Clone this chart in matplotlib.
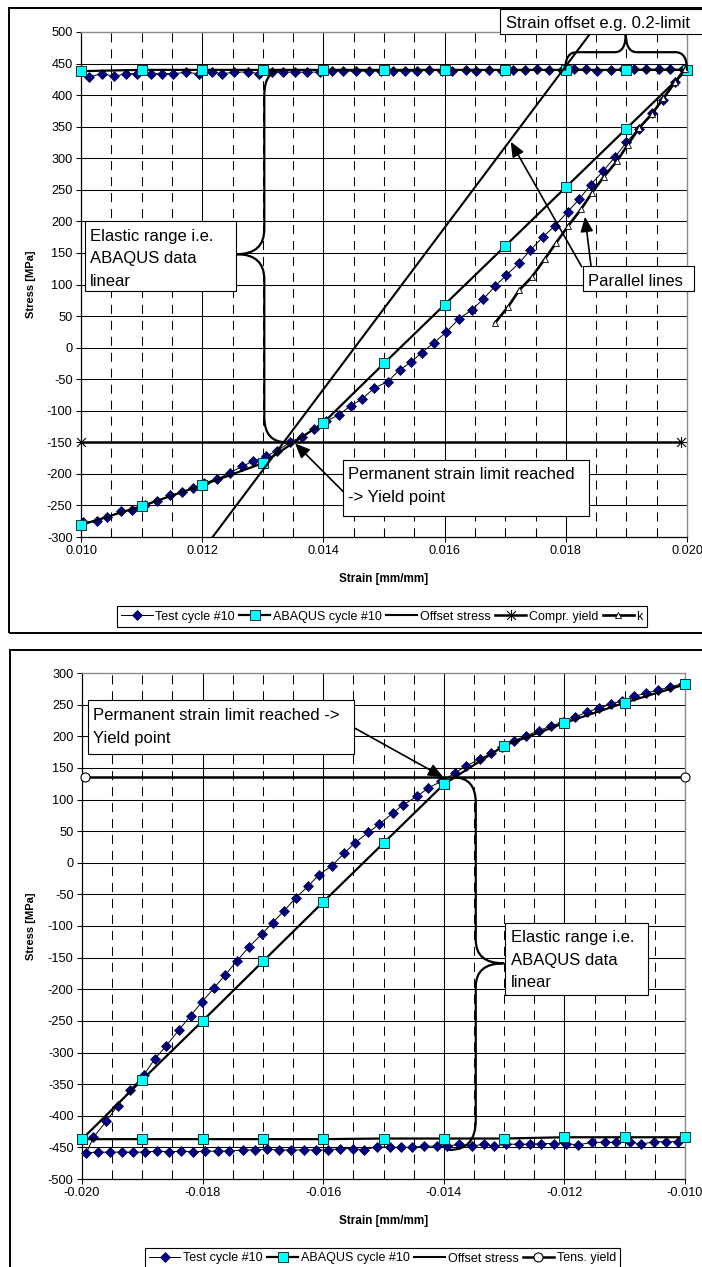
import numpy as np
import matplotlib
matplotlib.use("Agg")
import matplotlib.pyplot as plt
from matplotlib.path import Path
from matplotlib.patches import PathPatch, Rectangle, FancyArrowPatch
from matplotlib.lines import Line2D
from matplotlib.ticker import FormatStrFormatter

plt.rcParams['font.family'] = ['Liberation Sans', 'DejaVu Sans']
plt.rcParams['axes.unicode_minus'] = False
plt.rcParams['lines.scale_dashes'] = False

# ---------------------------------------------------------------- data
# Tension side (strain 0.010 .. 0.020)
t_test_up_strain = [0.01004, 0.01026, 0.01043, 0.01066, 0.01084, 0.01105, 0.01126, 0.01147,
                    0.01166, 0.01185, 0.01203, 0.01225, 0.01246, 0.01266, 0.01284, 0.01306,
                    0.01324, 0.01345, 0.01364, 0.01384, 0.01405, 0.01425, 0.01445, 0.01463,
                    0.01484, 0.01506, 0.01526, 0.01545, 0.01562, 0.01583, 0.01602, 0.01623,
                    0.01645, 0.01664, 0.01683, 0.01702, 0.01723, 0.01741, 0.01762, 0.01782,
                    0.01803, 0.01822, 0.01841, 0.01862, 0.01881, 0.01900, 0.01920, 0.01942,
                    0.01961, 0.01980, 0.01997]
t_test_up_stress = [-277, -274, -269, -259, -257, -250, -243, -234, -229, -222, -214, -208,
                    -198, -188, -180, -172, -163, -150, -141, -129, -116, -107, -92, -82,
                    -64, -54, -35, -23, -8, 8, 24, 45, 60, 77, 97, 115, 134, 154, 175, 193,
                    215, 235, 258, 280, 302, 325, 347, 371, 393, 420, 440]
t_test_top_strain = [0.01993, 0.01972, 0.01953, 0.01932, 0.01913, 0.01894, 0.01874, 0.01851,
                     0.01833, 0.01814, 0.01794, 0.01773, 0.01753, 0.01733, 0.01713, 0.01694,
                     0.01674, 0.01652, 0.01635, 0.01613, 0.01595, 0.01575, 0.01555, 0.01535,
                     0.01515, 0.01495, 0.01476, 0.01454, 0.01433, 0.01415, 0.01394, 0.01373,
                     0.01353, 0.01333, 0.01315, 0.01294, 0.01276, 0.01253, 0.01232, 0.01216,
                     0.01194, 0.01174, 0.01152, 0.01134, 0.01115, 0.01093, 0.01074, 0.01055,
                     0.01034, 0.01014]
t_test_top_stress = [441, 441, 441, 441, 441, 441, 440, 438, 441, 441, 440, 440, 441, 440,
                     440, 439, 440, 438, 440, 438, 438, 440, 438, 438, 438, 438, 438, 438,
                     438, 439, 437, 436, 437, 436, 437, 434, 437, 436, 434, 437, 434, 436,
                     434, 434, 434, 434, 434, 430, 434, 429]

t_abq_strain = [0.010, 0.011, 0.012, 0.013, 0.014, 0.015, 0.016, 0.017, 0.018, 0.019, 0.020,
                0.020, 0.019, 0.018, 0.017, 0.016, 0.015, 0.014, 0.013, 0.012, 0.011, 0.010]
t_abq_stress = [-281, -251, -218, -183, -119, -25, 68, 161, 254, 347, 440,
                440, 440, 440, 440, 440, 440, 440, 440, 440, 440, 438]

t_offset_strain = [0.0110, 0.0190]
t_offset_stress = [-450, 574]

t_yield_strain = [0.0100, 0.0199]
t_yield_stress = [-150, -150]

t_k_strain = [0.01683, 0.01705, 0.01723, 0.01744, 0.01765, 0.01784, 0.01804, 0.01825,
              0.01843, 0.01863, 0.01884, 0.01902, 0.01921, 0.01942, 0.01961, 0.01980, 0.01997]
t_k_stress = [39, 65, 91, 112, 140, 166, 193, 219, 245, 271, 295, 321, 348, 370, 395, 420, 442]

# Compression side (strain -0.020 .. -0.010)
c_test_low_strain = [-0.01993, -0.01973, -0.01954, -0.01934, -0.01915, -0.01896, -0.01875,
                     -0.01856, -0.01835, -0.01816, -0.01796, -0.01774, -0.01756, -0.01733,
                     -0.01713, -0.01694, -0.01673, -0.01653, -0.01632, -0.01612, -0.01592,
                     -0.01572, -0.01551, -0.01532, -0.01511, -0.01490, -0.01471, -0.01452,
                     -0.01433, -0.01412, -0.01394, -0.01374, -0.01354, -0.01333, -0.01317,
                     -0.01297, -0.01276, -0.01257, -0.01238, -0.01218, -0.01197, -0.01177,
                     -0.01154, -0.01133, -0.01114, -0.01092, -0.01073, -0.01051, -0.01031,
                     -0.01011]
c_test_low_stress = [-459, -457, -458, -457, -458, -457, -456, -457, -456, -457, -456, -456,
                     -456, -454, -454, -453, -454, -454, -454, -454, -454, -452, -452, -454,
                     -449, -450, -450, -450, -448, -448, -448, -445, -448, -445, -448, -445,
                     -445, -445, -444, -444, -444, -446, -442, -442, -442, -441, -445, -441,
                     -441, -441]
c_test_up_strain = [-0.01981, -0.01960, -0.01941, -0.01920, -0.01898, -0.01879, -0.01860,
                    -0.01839, -0.01820, -0.01801, -0.01781, -0.01763, -0.01743, -0.01723,
                    -0.01702, -0.01684, -0.01665, -0.01645, -0.01625, -0.01607, -0.01586,
                    -0.01565, -0.01547, -0.01525, -0.01507, -0.01485, -0.01467, -0.01444,
                    -0.01426, -0.01404, -0.01381, -0.01363, -0.01340, -0.01322, -0.01303,
                    -0.01284, -0.01263, -0.01242, -0.01223, -0.01203, -0.01182, -0.01162,
                    -0.01143, -0.01123, -0.01104, -0.01085, -0.01065, -0.01044, -0.01025,
                    -0.01004]
c_test_up_stress = [-434, -409, -384, -359, -336, -310, -289, -264, -242, -220, -198, -178,
                    -155, -133, -113, -95, -76, -55, -37, -19, -5, 15, 32, 48, 61, 78, 92,
                    105, 118, 129, 142, 153, 164, 173, 183, 193, 201, 209, 216, 222, 230,
                    239, 244, 251, 256, 263, 268, 273, 278, 283]

c_abq_strain = [-0.010, -0.011, -0.012, -0.013, -0.014, -0.015, -0.016, -0.017, -0.018, -0.019,
                -0.020, -0.020, -0.019, -0.018, -0.017, -0.016, -0.015, -0.014, -0.013, -0.012,
                -0.011, -0.010]
c_abq_stress = [-434, -434, -434, -436, -436, -436, -437, -437, -437, -437,
                -437, -437, -343, -250, -156, -62, 31, 124, 185, 221, 253, 282]

c_yield_strain = [-0.01995, -0.0100]
c_yield_stress = [135, 135]

t_yticks = list(range(-300, 501, 50))
c_yticks = list(range(-500, 301, 50))
t_xticks = [0.010, 0.012, 0.014, 0.016, 0.018, 0.020]
c_xticks = [-0.020, -0.018, -0.016, -0.014, -0.012, -0.010]

# ---------------------------------------------------------------- styles
NAVY = '#000080'
CYAN = '#00FFFF'
star_marker = Path([(-1, -1), (1, 1), (-1, 1), (1, -1), (0, -1.25), (0, 1.25)],
                   [Path.MOVETO, Path.LINETO, Path.MOVETO, Path.LINETO, Path.MOVETO, Path.LINETO])

sty_test = dict(color='black', lw=0.7, marker='D', ms=4.8, mfc=NAVY, mec='#000040', mew=0.5)
sty_abq = dict(color='black', lw=1.6, marker='s', ms=6.9, mfc=CYAN, mec='#103030', mew=0.7)
sty_off = dict(color='black', lw=1.5)
sty_cy = dict(color='black', lw=1.8, marker=star_marker, ms=8, mfc='none', mec='black', mew=0.8)
sty_k = dict(color='black', lw=1.9, marker='^', ms=5.0, mfc='white', mec='black', mew=0.6)
sty_ty = dict(color='black', lw=1.8, marker='o', ms=6.5, mfc='white', mec='black', mew=0.8)

W, H = 702, 1267
fig = plt.figure(figsize=(W / 100, H / 100), dpi=100)


def fx(x):
    return x / W


def fy(y):
    return 1 - y / H


def axes_px(x0, y0, x1, y1):
    return fig.add_axes([fx(x0), fy(y1), fx(x1) - fx(x0), fy(y0) - fy(y1)])


def style_axes(ax, xlim, ylim, xticks, yticks):
    ax.set_xlim(*xlim)
    ax.set_ylim(*ylim)
    ax.set_xticks(xticks)
    ax.set_yticks(yticks)
    ax.xaxis.set_major_formatter(FormatStrFormatter('%.3f'))
    ax.yaxis.set_major_formatter(FormatStrFormatter('%d'))
    # minor dashed verticals every 0.0005, solid majors every 0.002 / 50 MPa
    minor = np.arange(xlim[0], xlim[1] + 1e-9, 0.0005)
    for xv in minor:
        if min(abs(xv - t) for t in xticks) < 1e-7:
            continue
        ax.axvline(xv, color='black', lw=0.75, ls=(0, (6.5, 5)), zorder=1)
    for xv in xticks[1:-1]:
        ax.axvline(xv, color='black', lw=0.75, zorder=1)
    for yv in yticks[1:-1]:
        ax.axhline(yv, color='black', lw=0.75, zorder=1)
    ax.tick_params(direction='out', length=3.6, width=0.75, labelsize=9.2, pad=2.5,
                   colors='black')
    for s in ('top', 'right'):
        ax.spines[s].set_color('#8a8a8a')
        ax.spines[s].set_linewidth(1.0)
    for s in ('left', 'bottom'):
        ax.spines[s].set_color('black')
        ax.spines[s].set_linewidth(0.9)


def brace(ax, verts):
    codes = [Path.MOVETO, Path.CURVE3, Path.CURVE3, Path.LINETO, Path.CURVE3, Path.CURVE3,
             Path.CURVE3, Path.CURVE3, Path.LINETO, Path.CURVE3, Path.CURVE3]
    ax.add_patch(PathPatch(Path(verts, codes), fc='none', ec='black', lw=1.6,
                           clip_on=False, zorder=6, capstyle='round'))


def note_box(x0, y0, x1, y1, lines, tx, baselines, size=12):
    fig.add_artist(Rectangle((fx(x0), fy(y1)), fx(x1) - fx(x0), fy(y0) - fy(y1),
                             transform=fig.transFigure, fc='white', ec='black',
                             lw=0.8, zorder=10))
    for s, b in zip(lines, baselines):
        fig.text(fx(tx), fy(b), s, fontsize=size, va='baseline', ha='left', zorder=11)


def arrow(p0, p1):
    fig.add_artist(FancyArrowPatch((fx(p0[0]), fy(p0[1])), (fx(p1[0]), fy(p1[1])),
                                   transform=fig.transFigure,
                                   arrowstyle='-|>,head_length=0.75,head_width=0.32',
                                   mutation_scale=12, lw=1.2, color='black',
                                   shrinkA=0, shrinkB=0, zorder=9))


def frame(x0, y0, x1, y1):
    fig.add_artist(Rectangle((fx(x0), fy(y1)), fx(x1) - fx(x0), fy(y0) - fy(y1),
                             transform=fig.transFigure, fc='none', ec='black',
                             lw=1.4, zorder=0, clip_on=False))


# ---------------------------------------------------------------- chart frames
frame(8.5, 8.5, 730, 633)
frame(9.5, 650, 730, 1300)

# ---------------------------------------------------------------- tension chart
ax1 = axes_px(81, 32, 687, 537)
style_axes(ax1, (0.010, 0.020), (-300, 500), t_xticks, t_yticks)

ax1.plot(t_test_up_strain + t_test_top_strain, t_test_up_stress + t_test_top_stress,
         zorder=3, clip_on=False, **sty_test)
ax1.plot(t_abq_strain, t_abq_stress, zorder=4, clip_on=False, **sty_abq)
ax1.plot(t_offset_strain, t_offset_stress, zorder=5, **sty_off)
ax1.plot(t_yield_strain, t_yield_stress, zorder=5, clip_on=False, **sty_cy)
ax1.plot(t_k_strain, t_k_stress, zorder=5, clip_on=False, **sty_k)

ax1.set_ylabel('Stress [MPa]', fontsize=8, fontweight='bold', va='center')
ax1.yaxis.set_label_coords((31 - 81) / 606, 0.5)
ax1.set_xlabel('Strain [mm/mm]', fontsize=8.5, fontweight='bold', va='center')
ax1.xaxis.set_label_coords(0.5, (537 - 579) / 505)

# elastic-range brace (vertical, tip to the left)
brace(ax1, [(0.01334, 440), (0.013025, 440), (0.013025, 400),
            (0.013025, 188),
            (0.013025, 148), (0.01257, 148),
            (0.013025, 148), (0.013025, 108),
            (0.013025, -110),
            (0.013025, -150), (0.01339, -150)])
# strain-offset brace (horizontal, tip upwards)
brace(ax1, [(0.01799, 440), (0.01799, 468), (0.01818, 468),
            (0.01881, 468),
            (0.01899, 468), (0.01899, 498),
            (0.01899, 468), (0.01917, 468),
            (0.01981, 468),
            (0.02000, 468), (0.02000, 440)])

note_box(85, 221, 236, 291, ['Elastic range i.e.', 'ABAQUS data', 'linear'],
         90, [241, 263.5, 286])
note_box(343, 460, 589, 516, ['Permanent strain limit reached', '-> Yield point'],
         347.5, [479, 502])
note_box(582.5, 266.5, 694, 290.5, ['Parallel lines'], 588, [285.5])
note_box(500, 9, 740, 33.5, ['Strain offset e.g. 0.2-limit'], 506, [27.7])
arrow((343.3, 491.7), (295, 443.3))
arrow((581.7, 266.7), (510.7, 141.7))
arrow((591, 266), (585, 216.7))

leg_handles_t = [Line2D([], [], **sty_test), Line2D([], [], **sty_abq),
                 Line2D([], [], **sty_off), Line2D([], [], **sty_cy),
                 Line2D([], [], **sty_k)]
leg_labels_t = ['Test cycle #10', 'ABAQUS cycle #10', 'Offset stress', 'Compr. yield', 'k']
leg_kw = dict(loc='center', frameon=True, fancybox=False, framealpha=1, edgecolor='black',
              fontsize=9, handlelength=2.5, handletextpad=0.2, columnspacing=0.35,
              borderpad=0.35, borderaxespad=0, bbox_transform=fig.transFigure)
lg1 = fig.legend(leg_handles_t, leg_labels_t, ncol=5,
                 bbox_to_anchor=(fx(382), fy(616.5)), **leg_kw)
lg1.get_frame().set_linewidth(0.8)

# ---------------------------------------------------------------- compression chart
ax2 = axes_px(82, 673, 685, 1179)
style_axes(ax2, (-0.020, -0.010), (-500, 300), c_xticks, c_yticks)

ax2.plot(c_test_low_strain[::-1] + c_test_up_strain,
         c_test_low_stress[::-1] + c_test_up_stress,
         zorder=3, clip_on=False, **sty_test)
ax2.plot(c_abq_strain, c_abq_stress, zorder=4, clip_on=False, **sty_abq)
ax2.plot(c_yield_strain, c_yield_stress, zorder=5, clip_on=False, **sty_ty)

ax2.set_ylabel('Stress [MPa]', fontsize=8, fontweight='bold', va='center')
ax2.yaxis.set_label_coords((31 - 82) / 603, 0.5)
ax2.set_xlabel('Strain [mm/mm]', fontsize=8.5, fontweight='bold', va='center')
ax2.xaxis.set_label_coords(0.5, (1179 - 1221) / 506)

# elastic-range brace (vertical, tip to the right)
brace(ax2, [(-0.01384, 135), (-0.01347, 135), (-0.01347, 95),
            (-0.01347, -122),
            (-0.01347, -159), (-0.01301, -159),
            (-0.01347, -159), (-0.01347, -196),
            (-0.01347, -407),
            (-0.01347, -454), (-0.01390, -454)])

note_box(88, 700, 354, 754, ['Permanent strain limit reached ->', 'Yield point'],
         93.3, [720, 742.5])
note_box(505, 923, 648, 995, ['Elastic range i.e.', 'ABAQUS data', 'linear'],
         510.7, [941.7, 964.5, 987])
arrow((353.3, 727.3), (443.3, 777.3))

leg_handles_c = [Line2D([], [], **sty_test), Line2D([], [], **sty_abq),
                 Line2D([], [], **sty_off), Line2D([], [], **sty_ty)]
leg_labels_c = ['Test cycle #10', 'ABAQUS cycle #10', 'Offset stress', 'Tens. yield']
lg2 = fig.legend(leg_handles_c, leg_labels_c, ncol=4,
                 bbox_to_anchor=(fx(382.5), fy(1258.5)), **leg_kw)
lg2.get_frame().set_linewidth(0.8)

fig.savefig('out.png', dpi=100)
